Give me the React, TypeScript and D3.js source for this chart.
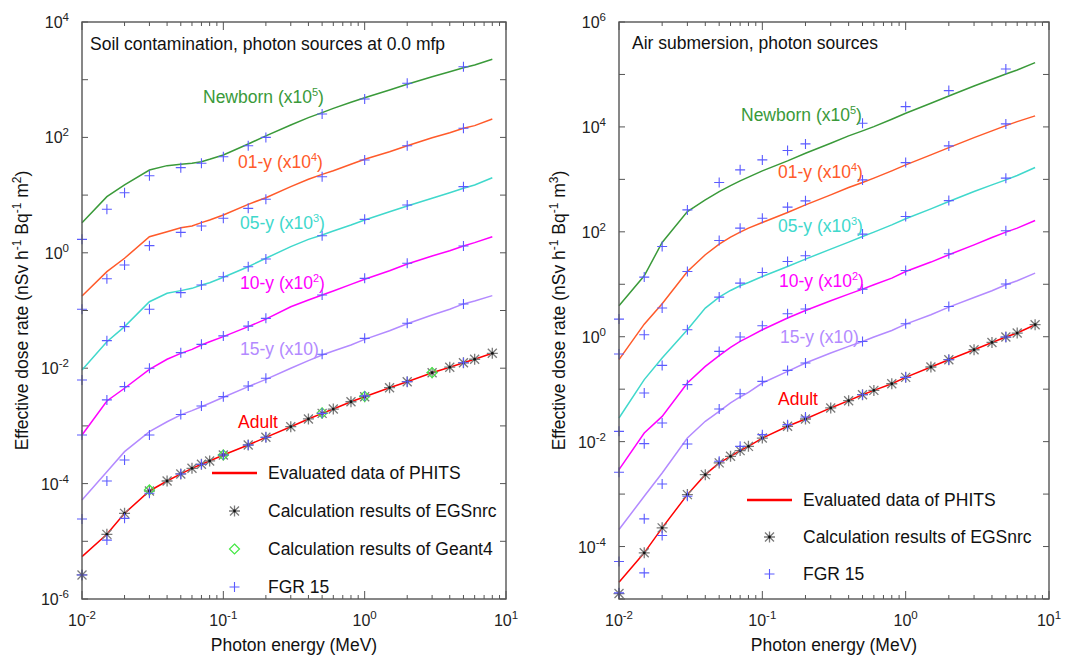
import React from 'react';
import * as d3 from 'd3';

// ---------- DATA ----------
const ENERGY = [0.01, 0.015, 0.02, 0.03, 0.04, 0.05, 0.06, 0.07, 0.08, 0.1, 0.15, 0.2, 0.3, 0.4, 0.5, 0.6, 0.8, 1, 1.5, 2, 3, 4, 5, 6, 8];
const FGR_ENERGY = [0.01, 0.015, 0.02, 0.03, 0.05, 0.07, 0.1, 0.15, 0.2, 0.5, 1, 2, 5];
const GEANT4_ENERGY = [0.03, 0.1, 0.5, 1, 3];

const SERIES_NAMES = ['Newborn', '01-y', '05-y', '10-y', '15-y', 'Adult'];
const SERIES_SCALE_EXP = ['5', '4', '3', '2', '', ''];
const SERIES_COLORS = ['#3a9a3a', '#ff5a2a', '#40d8cc', '#ff00ff', '#b38aff', '#ff0000'];

// Soil contamination (PHITS evaluated curves, scaled)
const soilNewborn = [3.33, 9.4, 15.0, 27.2, 32.4, 34.2, 35.6, 38.0, 41.7, 49.5, 76.9, 106, 164, 220, 269, 319, 406, 488, 664, 832, 1127, 1377, 1614, 1799, 2254];
const soil01y = [0.178, 0.471, 0.804, 1.90, 2.32, 2.72, 2.91, 3.33, 3.70, 4.52, 6.92, 9.02, 14.0, 18.8, 22.9, 26.5, 34.2, 41.7, 56.5, 71.8, 98.9, 120, 144, 160, 208];
const soil05y = [0.00933, 0.0288, 0.0525, 0.142, 0.199, 0.221, 0.242, 0.277, 0.303, 0.376, 0.574, 0.804, 1.28, 1.71, 2.04, 2.39, 3.03, 3.70, 5.15, 6.47, 8.79, 11.0, 13.1, 15.0, 20.0];
const soil10y = [6.95e-4, 2.70e-3, 4.49e-3, 9.55e-3, 1.43e-2, 1.81e-2, 2.12e-2, 2.52e-2, 2.88e-2, 3.52e-2, 5.25e-2, 7.08e-2, 0.116, 0.152, 0.186, 0.218, 0.284, 0.348, 0.490, 0.640, 0.881, 1.086, 1.312, 1.500, 1.901];
const soil15y = [5.20e-5, 1.61e-4, 3.58e-4, 7.94e-4, 1.18e-3, 1.55e-3, 1.84e-3, 2.15e-3, 2.47e-3, 3.13e-3, 4.79e-3, 6.41e-3, 1.0e-2, 1.35e-2, 1.69e-2, 1.99e-2, 2.52e-2, 3.16e-2, 4.47e-2, 5.89e-2, 8.36e-2, 0.105, 0.130, 0.146, 0.181];
const soilAdult = [5.42e-6, 1.32e-5, 3.05e-5, 7.45e-5, 1.11e-4, 1.47e-4, 1.84e-4, 2.16e-4, 2.47e-4, 3.13e-4, 4.67e-4, 6.34e-4, 9.68e-4, 1.32e-3, 1.65e-3, 1.96e-3, 2.62e-3, 3.21e-3, 4.59e-3, 5.83e-3, 8.36e-3, 1.04e-2, 1.24e-2, 1.43e-2, 1.81e-2];
const soilEgsAdult = [2.61e-6, 1.32e-5, 3.05e-5, 7.45e-5, 1.11e-4, 1.47e-4, 1.84e-4, 2.16e-4, 2.47e-4, 3.13e-4, 4.67e-4, 6.34e-4, 9.68e-4, 1.32e-3, 1.65e-3, 1.96e-3, 2.62e-3, 3.21e-3, 4.59e-3, 5.83e-3, 8.36e-3, 1.04e-2, 1.24e-2, 1.43e-2, 1.81e-2];
const soilGeant4Adult = [7.76e-5, 3.13e-4, 1.68e-3, 3.25e-3, 8.4e-3];
const soilFgrNewborn = [1.71, 5.68, 11.0, 21.7, 29.9, 35.6, 46.3, 71.8, 100, 255, 463, 867, 1679];
const soilFgr01y = [0.105, 0.356, 0.614, 1.33, 2.26, 2.91, 3.96, 5.89, 8.45, 20.8, 40.6, 71.8, 144];
const soilFgr05y = [0.00624, 0.030, 0.0525, 0.105, 0.204, 0.277, 0.385, 0.574, 0.782, 1.98, 3.80, 6.73, 14.0];
const soilFgr10y = [6.95e-4, 2.82e-3, 4.79e-3, 1.0e-2, 1.86e-2, 2.59e-2, 3.63e-2, 5.37e-2, 7.31e-2, 0.186, 0.361, 0.658, 1.312];
const soilFgr15y = [2.44e-5, 1.11e-4, 2.57e-4, 6.95e-4, 1.58e-3, 2.21e-3, 3.21e-3, 4.92e-3, 6.68e-3, 1.74e-2, 3.29e-2, 6.03e-2, 0.130];
const soilFgrAdult = [2.61e-6, 1.05e-5, 2.50e-5, 6.79e-5, 1.47e-4, 2.16e-4, 3.13e-4, 4.67e-4, 6.34e-4, 1.65e-3, 3.31e-3, 5.83e-3, 1.24e-2];

// Air submersion (PHITS evaluated curves, scaled)
const airNewborn = [3.89, 14.5, 62.7, 244, 407, 586, 762, 935, 1102, 1452, 2249, 3155, 4887, 6745, 8395, 10140, 14030, 18240, 28250, 38900, 60390, 80910, 102300, 121900, 167900];
const air01y = [0.365, 1.738, 4.256, 17.5, 36.5, 58.3, 79.3, 98.6, 117.5, 150.3, 233.3, 326.6, 507, 698, 869, 1054, 1452, 1888, 2931, 4036, 6252, 8395, 10590, 12620, 16220];
const air05y = [0.0282, 0.152, 0.393, 1.358, 3.516, 5.702, 7.621, 9.354, 10.8, 14.1, 21.8, 30.2, 46.8, 63.5, 81.3, 98.6, 135.8, 177, 274, 378, 586, 785, 977, 1183, 1679];
const air10y = [2.93e-3, 1.46e-2, 3.03e-2, 0.131, 0.272, 0.435, 0.625, 0.813, 0.986, 1.358, 2.27, 3.17, 4.853, 6.501, 8.091, 9.772, 13.1, 17.5, 26.5, 36.5, 56.5, 77.8, 98.6, 117.5, 164];
const air15y = [2.11e-4, 9.10e-4, 2.53e-3, 1.17e-2, 2.44e-2, 3.78e-2, 5.46e-2, 7.10e-2, 8.69e-2, 0.131, 0.219, 0.316, 0.490, 0.655, 0.813, 0.986, 1.318, 1.738, 2.624, 3.673, 5.61, 7.516, 9.772, 11.7, 16.3];
const airAdult = [2.09e-5, 7.59e-5, 2.27e-4, 9.77e-4, 2.35e-3, 3.93e-3, 5.25e-3, 6.75e-3, 8.13e-3, 1.17e-2, 1.96e-2, 2.70e-2, 4.39e-2, 6.04e-2, 7.85e-2, 9.48e-2, 0.127, 0.168, 0.265, 0.365, 0.565, 0.778, 0.986, 1.175, 1.694];
const airEgsAdult = [1.27e-5, 7.59e-5, 2.27e-4, 9.77e-4, 2.35e-3, 3.93e-3, 5.25e-3, 6.75e-3, 8.13e-3, 1.17e-2, 1.96e-2, 2.70e-2, 4.39e-2, 6.04e-2, 7.85e-2, 9.48e-2, 0.127, 0.168, 0.265, 0.365, 0.565, 0.778, 0.986, 1.175, 1.694];
const airFgrNewborn = [2.17, 13.7, 52.5, 262, 869, 1517, 2350, 3540, 4742, 11750, 24380, 49200, 127400];
const airFgr01y = [0.468, 1.09, 3.52, 17.5, 68.2, 117.5, 182, 295, 389, 977, 2089, 4345, 11400];
const airFgr05y = [0.0157, 0.0845, 0.284, 1.358, 5.70, 10.5, 16.8, 27.2, 34.9, 90.4, 196, 394, 1054];
const airFgr10y = [2.6e-3, 9.16e-3, 2.27e-2, 0.122, 0.525, 0.986, 1.62, 2.74, 3.37, 8.09, 18.3, 38.1, 104.5];
const airFgr15y = [5.2e-5, 3.37e-4, 1.56e-3, 9.04e-3, 4.20e-2, 8.20e-2, 0.141, 0.228, 0.316, 0.813, 1.77, 3.78, 10.1];
const airFgrAdult = [1.31e-5, 3.15e-5, 1.62e-4, 9.10e-4, 4.22e-3, 8.13e-3, 1.36e-2, 2.11e-2, 2.95e-2, 7.85e-2, 0.168, 0.365, 0.986];

const X_TICK_EXPS = [-2, -1, 0, 1];
const SOIL_Y_LABEL_EXPS = [-6, -4, -2, 0, 2, 4];
const AIR_Y_LABEL_EXPS = [-4, -2, 0, 2, 4, 6];

const LEGEND_SOIL = ['Evaluated data of PHITS', 'Calculation results of EGSnrc', 'Calculation results of Geant4', 'FGR 15'];
const LEGEND_AIR = ['Evaluated data of PHITS', 'Calculation results of EGSnrc', 'FGR 15'];

// ---------- LAYOUT ----------
const FONT = '"Liberation Sans", Arial, Helvetica, sans-serif';
const FRAME = '#555';
const FGR_COLOR = '#5b5bff';
const EGS_COLOR = '#7a7a7a';
const G4_COLOR = '#44e844';

const panels = [
  {
    key: 'soil',
    left: 82, right: 506, top: 22, bottom: 599,
    yDomain: [1e-6, 1e4],
    yLabelExps: SOIL_Y_LABEL_EXPS,
    title: 'Soil contamination, photon sources at 0.0 mfp',
    titleX: 90, titleY: 50,
    yTitleX: 28, yUnit: '2',
    curves: [soilNewborn, soil01y, soil05y, soil10y, soil15y, soilAdult],
    fgr: [soilFgrNewborn, soilFgr01y, soilFgr05y, soilFgr10y, soilFgr15y, soilFgrAdult],
    egs: soilEgsAdult,
    geant4: soilGeant4Adult as number[] | null,
    labelPos: [[203, 103], [238, 168], [240, 229], [240, 289], [240, 355], [238, 428]],
    legend: LEGEND_SOIL,
    legendX: 212, legendY: 473, legendStep: 38,
  },
  {
    key: 'air',
    left: 619, right: 1049, top: 22, bottom: 599,
    yDomain: [1e-5, 1e6],
    yLabelExps: AIR_Y_LABEL_EXPS,
    title: 'Air submersion, photon sources',
    titleX: 632, titleY: 49,
    yTitleX: 565, yUnit: '3',
    curves: [airNewborn, air01y, air05y, air10y, air15y, airAdult],
    fgr: [airFgrNewborn, airFgr01y, airFgr05y, airFgr10y, airFgr15y, airFgrAdult],
    egs: airEgsAdult,
    geant4: null as number[] | null,
    labelPos: [[741, 121], [778, 178], [778, 232], [779, 287], [780, 343], [778, 405]],
    legend: LEGEND_AIR,
    legendX: 747, legendY: 500, legendStep: 37,
  },
];

const Plus = ({ x, y }: { x: number; y: number }) => (
  <path d={`M${x - 5},${y}H${x + 5}M${x},${y - 5}V${y + 5}`} stroke={FGR_COLOR} strokeWidth={1.1} fill="none" />
);
const Star = ({ x, y }: { x: number; y: number }) => (
  <g>
    <path d={`M${x - 5.5},${y}H${x + 5.5}M${x},${y - 5.5}V${y + 5.5}M${x - 4.5},${y - 4.5}L${x + 4.5},${y + 4.5}M${x - 4.5},${y + 4.5}L${x + 4.5},${y - 4.5}`} stroke={EGS_COLOR} strokeWidth={1.3} fill="none" />
    <circle cx={x} cy={y} r={1.4} fill="#111" />
  </g>
);
const Diamond = ({ x, y }: { x: number; y: number }) => (
  <path d={`M${x},${y - 5}L${x + 5},${y}L${x},${y + 5}L${x - 5},${y}Z`} stroke={G4_COLOR} strokeWidth={1.2} fill="none" />
);

function Panel({ p }: { p: typeof panels[number] }) {
  const x = d3.scaleLog().domain([0.01, 10]).range([p.left, p.right]);
  const y = d3.scaleLog().domain(p.yDomain).range([p.bottom, p.top]);
  const line = d3.line<[number, number]>().x(d => x(d[0])).y(d => y(d[1]));
  const yExpMin = Math.round(Math.log10(p.yDomain[0]));
  const yExpMax = Math.round(Math.log10(p.yDomain[1]));
  const yDecades = d3.range(yExpMin, yExpMax + 1);
  const xMinor: number[] = [];
  for (let e = -2; e < 1; e++) for (let m = 2; m <= 9; m++) xMinor.push(m * Math.pow(10, e));
  const midX = (p.left + p.right) / 2;
  const midY = (p.top + p.bottom) / 2;

  return (
    <g>
      {xMinor.map((v, i) => (
        <g key={'xm' + i}>
          <line x1={x(v)} x2={x(v)} y1={p.bottom} y2={p.bottom - 4} stroke={FRAME} strokeWidth={1} />
          <line x1={x(v)} x2={x(v)} y1={p.top} y2={p.top + 4} stroke={FRAME} strokeWidth={1} />
        </g>
      ))}
      {X_TICK_EXPS.map(e => (
        <g key={'xM' + e}>
          <line x1={x(Math.pow(10, e))} x2={x(Math.pow(10, e))} y1={p.bottom} y2={p.bottom - 8} stroke={FRAME} strokeWidth={1} />
          <line x1={x(Math.pow(10, e))} x2={x(Math.pow(10, e))} y1={p.top} y2={p.top + 8} stroke={FRAME} strokeWidth={1} />
          <text x={x(Math.pow(10, e))} y={626} textAnchor="middle" fontSize={16} fill="#222">
            <tspan>10</tspan><tspan dy={-7} fontSize={11.5}>{String(e)}</tspan>
          </text>
        </g>
      ))}
      {yDecades.map(e => (
        <g key={'y' + e}>
          <line x1={p.left} x2={p.left + 6} y1={y(Math.pow(10, e))} y2={y(Math.pow(10, e))} stroke={FRAME} strokeWidth={1} />
          <line x1={p.right} x2={p.right - 6} y1={y(Math.pow(10, e))} y2={y(Math.pow(10, e))} stroke={FRAME} strokeWidth={1} />
        </g>
      ))}
      {p.yLabelExps.map(e => (
        <text key={'yl' + e} x={p.left - 13} y={y(Math.pow(10, e)) + 6} textAnchor="end" fontSize={16} fill="#222">
          <tspan>10</tspan><tspan dy={-7} fontSize={11.5}>{String(e)}</tspan>
        </text>
      ))}

      {p.curves.map((vals, i) => (
        <path key={'c' + i} d={line(ENERGY.map((e, j) => [e, vals[j]] as [number, number])) || ''} fill="none" stroke={SERIES_COLORS[i]} strokeWidth={1.5} />
      ))}
      {ENERGY.map((e, j) => <Star key={'egs' + j} x={x(e)} y={y(p.egs[j])} />)}
      {p.geant4 && GEANT4_ENERGY.map((e, j) => <Diamond key={'g4' + j} x={x(e)} y={y((p.geant4 as number[])[j])} />)}
      {p.fgr.map((vals, i) => FGR_ENERGY.map((e, j) => <Plus key={'f' + i + '-' + j} x={x(e)} y={y(vals[j])} />))}

      <rect x={p.left} y={p.top} width={p.right - p.left} height={p.bottom - p.top} fill="none" stroke={FRAME} strokeWidth={1.4} />

      <text x={p.titleX} y={p.titleY} fontSize={17.5} fill="#111">{p.title}</text>

      {SERIES_NAMES.map((name, i) => {
        const [lx, ly] = p.labelPos[i];
        const exp = SERIES_SCALE_EXP[i];
        return (
          <text key={'lab' + i} x={lx} y={ly} fontSize={17.5} fill={SERIES_COLORS[i]}>
            {i === 4 ? `${name} (x10)` : i === 5 ? name : (
              <>
                <tspan>{name} (x10</tspan>
                <tspan dy={-7} fontSize={11}>{exp}</tspan>
                <tspan dy={7}>)</tspan>
              </>
            )}
          </text>
        );
      })}

      {p.legend.map((label, i) => {
        const ly = p.legendY + i * p.legendStep;
        const mx = p.legendX + 22.5;
        let marker: React.ReactNode = null;
        if (label.startsWith('Evaluated')) marker = <line x1={p.legendX} x2={p.legendX + 45} y1={ly} y2={ly} stroke="#ff0000" strokeWidth={2.6} />;
        else if (label.includes('EGSnrc')) marker = <Star x={mx} y={ly} />;
        else if (label.includes('Geant4')) marker = <Diamond x={mx} y={ly} />;
        else marker = <Plus x={mx} y={ly} />;
        return (
          <g key={'lg' + i}>
            {marker}
            <text x={p.legendX + 56} y={ly + 6} fontSize={17.5} fill="#111">{label}</text>
          </g>
        );
      })}

      <text x={midX} y={651} textAnchor="middle" fontSize={17.5} fill="#111">Photon energy (MeV)</text>
      <text transform={`translate(${p.yTitleX},${midY}) rotate(-90)`} textAnchor="middle" fontSize={17.5} fill="#111">
        <tspan>Effective dose rate (nSv h</tspan>
        <tspan dy={-7} fontSize={12}>-1</tspan>
        <tspan dy={7}> Bq</tspan>
        <tspan dy={-7} fontSize={12}>-1</tspan>
        <tspan dy={7}> m</tspan>
        <tspan dy={-7} fontSize={12}>{p.yUnit}</tspan>
        <tspan dy={7}>)</tspan>
      </text>
    </g>
  );
}

export default function App() {
  return (
    <svg width={1072} height={657} style={{ position: 'absolute', left: 0, top: 0, background: '#fff', fontFamily: FONT }}>
      <rect x={0} y={0} width={1072} height={657} fill="#fff" />
      {panels.map(p => <Panel key={p.key} p={p} />)}
    </svg>
  );
}
